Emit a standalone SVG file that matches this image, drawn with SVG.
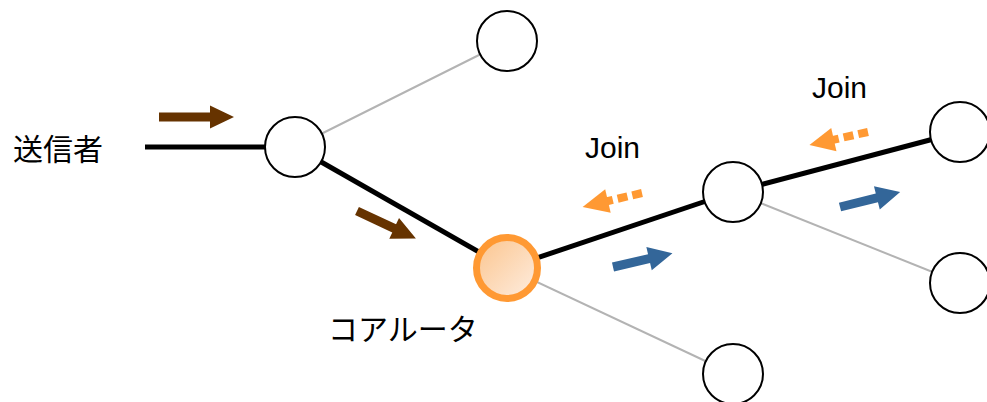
<svg xmlns="http://www.w3.org/2000/svg" width="987" height="402" viewBox="0 0 987 402">
<style>
.thick{stroke:#000;stroke-width:5;fill:none}
.thin{stroke:#b3b3b3;stroke-width:2;fill:none}
.node{fill:#fff;stroke:#000;stroke-width:2}
.brown{fill:#663300}
.blue{fill:#336699}
.orange{fill:#ff9933}
.dash{stroke:#ff9933;stroke-width:8;stroke-dasharray:10 5;fill:none}
.jp{font-family:"Noto Sans CJK JP","Noto Sans CJK SC",sans-serif;font-size:30px;fill:#000}
.en{font-family:"Liberation Sans",Arial,sans-serif;font-size:30px;fill:#000}
</style>
<defs>
<linearGradient id="coreGrad" x1="0" y1="0" x2="1" y2="1">
<stop offset="0" stop-color="#fbc48c"/>
<stop offset="1" stop-color="#feeee2"/>
</linearGradient>
</defs>
<g id="connectors">
<line class="thick" x1="145" y1="147" x2="265" y2="147"/>
<line class="thick" x1="295" y1="147" x2="507" y2="268"/>
<line class="thick" x1="507" y1="268" x2="733" y2="192"/>
<line class="thick" x1="733" y1="192" x2="960" y2="132"/>
<line class="thin" x1="295" y1="147" x2="507" y2="41"/>
<line class="thin" x1="507" y1="268" x2="733" y2="374"/>
<line class="thin" x1="733" y1="192" x2="960" y2="283"/>
</g>
<g id="arrows">
<path class="brown" transform="translate(159,117)" d="M0,-4.5 L51,-4.5 L51,-11.5 L75,0 L51,11.5 L51,4.5 L0,4.5 Z"/>
<path class="brown" transform="translate(357,211) rotate(25)" d="M0,-4.5 L41,-4.5 L41,-11.5 L65,0 L41,11.5 L41,4.5 L0,4.5 Z"/>
<path class="blue" transform="translate(613,267) rotate(-13)" d="M0,-4.5 L37,-4.5 L37,-12 L61,0 L37,12 L37,4.5 L0,4.5 Z"/>
<path class="blue" transform="translate(840,207) rotate(-14)" d="M0,-4.5 L38,-4.5 L38,-12 L62,0 L38,12 L38,4.5 L0,4.5 Z"/>
<g transform="translate(642,193) rotate(166.7)">
<line class="dash" x1="0" y1="0" x2="37" y2="0"/>
<path class="orange" d="M35,-12 L61,0 L35,12 Z"/>
</g>
<g transform="translate(868,132) rotate(167.4)">
<line class="dash" x1="0" y1="0" x2="37" y2="0"/>
<path class="orange" d="M35,-12 L60,0 L35,12 Z"/>
</g>
</g>
<g id="n-top"><circle class="node" cx="507" cy="41" r="30"/></g>
<g id="n-sender-router"><circle class="node" cx="295" cy="147" r="30"/></g>
<g id="n-core"><circle cx="507" cy="268" r="30.5" fill="url(#coreGrad)" stroke="#ff9933" stroke-width="7"/></g>
<g id="n-mid"><circle class="node" cx="733" cy="192" r="30"/></g>
<g id="n-topright"><circle class="node" cx="960" cy="132" r="30"/></g>
<g id="n-botright"><circle class="node" cx="960" cy="283" r="30"/></g>
<g id="n-bottom"><circle class="node" cx="733" cy="374" r="30"/></g>
<g id="labels">
<text class="jp" x="13" y="160">送信者</text>
<text class="jp" x="328" y="340">コアルータ</text>
<text class="en" x="585" y="158">Join</text>
<text class="en" x="812" y="98">Join</text>
</g>
</svg>
